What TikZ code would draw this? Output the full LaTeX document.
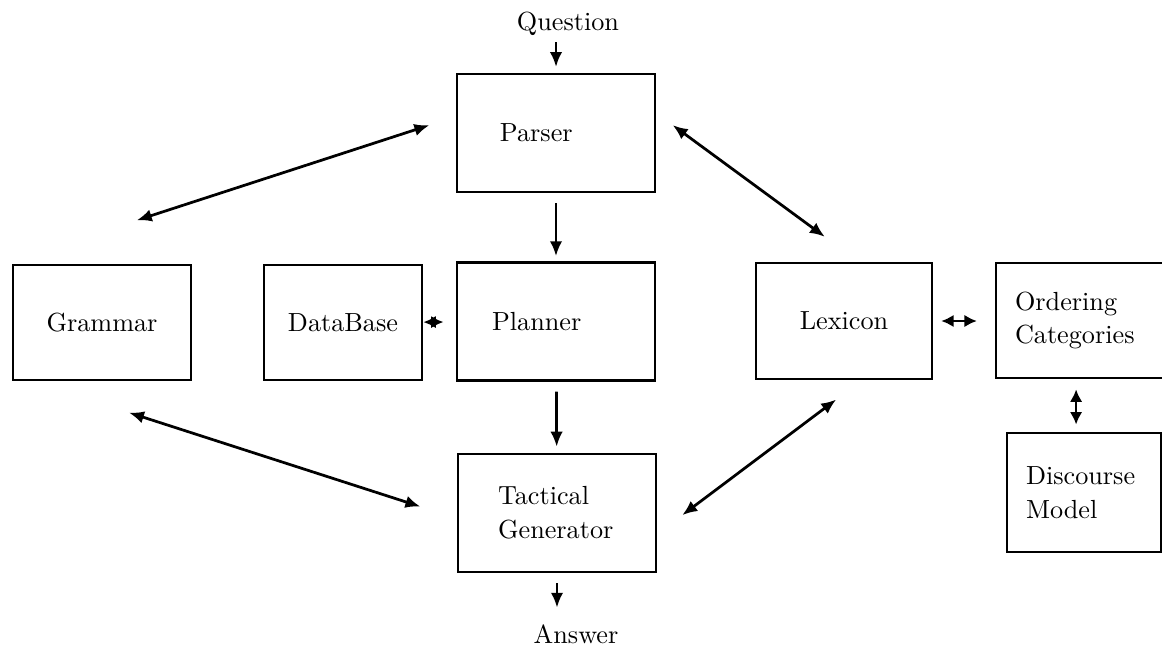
\documentclass[tikz,border=0pt]{standalone}
\usetikzlibrary{arrows.meta}
\begin{document}
\begin{tikzpicture}[line width=1.1pt,
        >={Latex[length=6pt,width=5pt]},
        txt/.style={font=\fontsize{10.5}{13.5}\selectfont},
        box/.style={txt,draw,minimum width=2.79cm,minimum height=1.66cm},
        short/.style={{Latex[length=5pt,width=5pt]}-{Latex[length=5pt,width=5pt]}}]
        \useasboundingbox (0,0) rectangle (16.366,-9.127);
        \node[txt] (question) at (8.0,-0.34) {Question};
        \node[box,text width=1.58cm,align=left] (parser) at (7.831,-1.873) {Parser};
        \node[box,text width=1.80cm,align=left] (planner) at (7.831,-4.528) {Planner};
        \node[box,text width=1.66cm,align=left] (tactical) at (7.845,-7.225) {Tactical\\Generator};
        \node[txt] (answer) at (8.113,-8.93) {Answer};
        \node[box,minimum width=2.507cm,minimum height=1.62cm] (grammar) at (1.437,-4.542) {Grammar};
        \node[box,minimum width=2.225cm,minimum height=1.62cm] (database) at (4.831,-4.542) {DataBase};
        \node[box,minimum width=2.479cm,minimum height=1.634cm] (lexicon) at (11.887,-4.521) {Lexicon};
        \node[box,minimum width=2.535cm,minimum height=1.62cm,text width=2.0cm,align=left] (ordering) at (15.296,-4.514) {Ordering\\Categories};
        \node[box,minimum width=2.169cm,minimum height=1.676cm,text width=1.634cm,align=left] (discourse) at (15.268,-6.937) {Discourse\\Model};
        \draw[->,shorten <=-0.05cm,shorten >=0.08cm] (question.south -| parser.north) -- (parser.north);
        \draw[->,shorten <=0.14cm,shorten >=0.07cm] (parser) -- (planner);
        \draw[->,shorten <=0.14cm,shorten >=0.085cm] (planner) -- (tactical);
        \draw[->,shorten <=0.14cm,shorten >=0.1cm] (tactical.south) -- (tactical.south |- answer.north);
        \draw[short,shorten >=0.17cm] (database) -- (planner);
        \draw[short,shorten <=0.11cm,shorten >=0.25cm] (lexicon.east) -- (lexicon.east -| ordering.west);
        \draw[short,shorten <=0.14cm,shorten >=0.1cm] ([xshift=-0.14cm]ordering.south) -- ([xshift=-0.14cm]ordering.south |- discourse.north);
        \draw[<->] ([shift={(0.49,0.61)}]grammar.north) -- ([shift={(-0.37,0.11)}]parser.west);
        \draw[<->] ([shift={(0.23,0.11)}]parser.east) -- ([shift={(-0.27,0.35)}]lexicon.north);
        \draw[<->] ([shift={(0.38,-0.44)}]grammar.south) -- ([shift={(-0.51,0.09)}]tactical.west);
        \draw[<->] ([shift={(-0.11,-0.27)}]lexicon.south) -- ([shift={(0.35,-0.03)}]tactical.east);
    \end{tikzpicture}
\end{document}
